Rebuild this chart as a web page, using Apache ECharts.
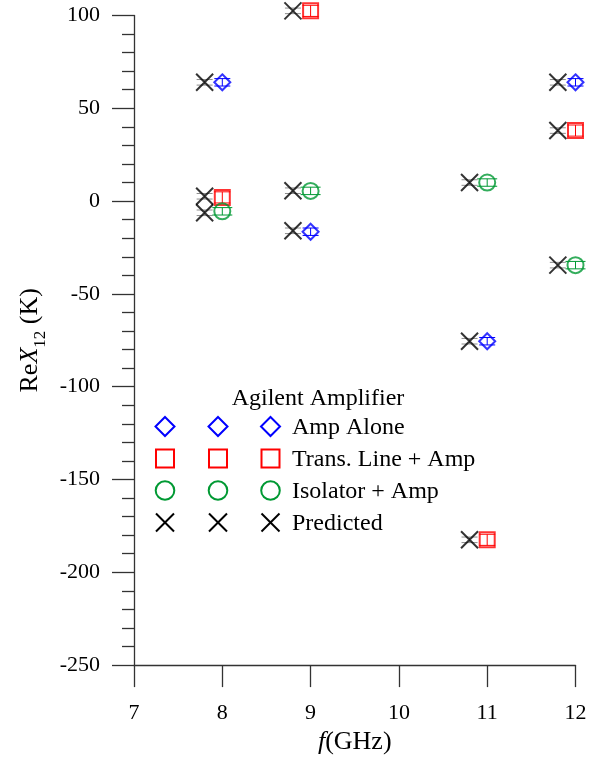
<!DOCTYPE html>
<html>
<head>
<meta charset="utf-8">
<script src="https://cdn.jsdelivr.net/npm/echarts@6/dist/echarts.min.js"></script>
<style>
  html, body { margin: 0; padding: 0; background: #fff; }
  #chart { width: 600px; height: 760px; }
</style>
</head>
<body>
<div id="chart"></div>
<script>
// Measurement frequencies (GHz) and the offset positions used for predictions
const freqs = [8, 9, 11, 12];
const predFreqs = [7.8, 8.8, 10.8, 11.8];

// Measured Re X12 (K)
const ampAlone = [64, -16.5, -75.5, 64];
const transLine = [2, 102.5, -182.5, 38];
const isolator = [-5.5, 5.5, 10, -34.5];

// Measurement uncertainties (K)
const ampAloneErr = [2, 2, 2, 2];
const transLineErr = [3, 3, 3, 3];
const isolatorErr = [2, 2, 2, 2];

// Predicted Re X12 (K) for each configuration
const predAmpAlone = [64, -16, -75.5, 64];
const predTransLine = [2.6, 102.5, -182.5, 38];
const predIsolator = [-6.3, 5.6, 10, -34.5];
const predErr = [1.5, 1.5, 1.5, 1.5];

// Axis ticks
const xTicks = [7, 8, 9, 10, 11, 12];
const yMin = -250, yMax = 100, yStep = 50;

// Legend entries
const legendNames = ['Amp Alone', 'Trans. Line + Amp', 'Isolator + Amp', 'Predicted'];
const legendTitle = 'Agilent Amplifier';

const FONT = 'Liberation Serif';
const BLUE = '#0000ff', RED = '#ff0000', GREEN = '#009933', BLACK = '#000000', GREY = '#8c8c8c';

function pairs(xs, ys) { return xs.map((x, i) => [x, ys[i]]); }
function triples(xs, ys, es) { return xs.map((x, i) => [x, ys[i], es[i]]); }

function errorBars(name, data, color, capW) {
  return {
    type: 'custom',
    name: name,
    data: data,
    clip: false,
    silent: true,
    z: 1,
    renderItem: function (params, api) {
      const x = api.value(0), y = api.value(1), e = api.value(2);
      const top = api.coord([x, y + e]);
      const bot = api.coord([x, y - e]);
      const st = { stroke: color, lineWidth: 1 };
      return {
        type: 'group',
        children: [
          { type: 'line', shape: { x1: top[0], y1: top[1], x2: bot[0], y2: bot[1] }, style: st },
          { type: 'line', shape: { x1: top[0] - capW / 2, y1: top[1], x2: top[0] + capW / 2, y2: top[1] }, style: st },
          { type: 'line', shape: { x1: bot[0] - capW / 2, y1: bot[1], x2: bot[0] + capW / 2, y2: bot[1] }, style: st }
        ]
      };
    }
  };
}

const crossPath = 'path://M0,0L10,10M10,0L0,10';

function scatter(name, data, symbol, color, size, z) {
  return {
    type: 'scatter',
    name: name,
    data: data,
    symbol: symbol,
    symbolSize: size,
    clip: false,
    z: z,
    itemStyle: { color: 'none', borderColor: color, borderWidth: 2 },
    emphasis: { disabled: true }
  };
}

const predAll = pairs(predFreqs, predAmpAlone)
  .concat(pairs(predFreqs, predTransLine))
  .concat(pairs(predFreqs, predIsolator));
const predErrAll = triples(predFreqs, predAmpAlone, predErr)
  .concat(triples(predFreqs, predTransLine, predErr))
  .concat(triples(predFreqs, predIsolator, predErr));

const series = [
  errorBars('errPred', predErrAll, GREY, 16),
  errorBars('errAmp', triples(freqs, ampAlone, ampAloneErr), BLUE, 16),
  errorBars('errTrans', triples(freqs, transLine, transLineErr), RED, 16),
  errorBars('errIso', triples(freqs, isolator, isolatorErr), GREEN, 20),
  scatter(legendNames[0], pairs(freqs, ampAlone), 'diamond', BLUE, 16, 3),
  scatter(legendNames[1], pairs(freqs, transLine), 'rect', RED, 15, 3),
  scatter(legendNames[2], pairs(freqs, isolator), 'circle', GREEN, 16, 3),
  {
    type: 'scatter',
    name: legendNames[3],
    data: predAll,
    symbol: crossPath,
    symbolSize: 17,
    clip: false,
    z: 4,
    itemStyle: { color: 'none', borderColor: BLACK, borderWidth: 2 },
    emphasis: { disabled: true }
  }
];

// Legend key: three icons per row, drawn as plain shapes beside the text entries
const legendRows = [426.5, 458.5, 490.5, 522.5];
const iconCols = [165, 218, 270.5];
const graphics = [];
iconCols.forEach(cx => {
  const s = 9.5;
  graphics.push({
    type: 'polygon', shape: { points: [[cx, legendRows[0] - s], [cx + s, legendRows[0]], [cx, legendRows[0] + s], [cx - s, legendRows[0]]] },
    style: { fill: 'none', stroke: BLUE, lineWidth: 2 }
  });
  graphics.push({
    type: 'rect', shape: { x: cx - 9, y: legendRows[1] - 9, width: 18, height: 18 },
    style: { fill: 'none', stroke: RED, lineWidth: 2 }
  });
  graphics.push({
    type: 'circle', shape: { cx: cx, cy: legendRows[2], r: 9.3 },
    style: { fill: 'none', stroke: GREEN, lineWidth: 2 }
  });
  graphics.push({
    type: 'group',
    children: [
      { type: 'line', shape: { x1: cx - 9, y1: legendRows[3] - 9, x2: cx + 9, y2: legendRows[3] + 9 }, style: { stroke: BLACK, lineWidth: 2 } },
      { type: 'line', shape: { x1: cx + 9, y1: legendRows[3] - 9, x2: cx - 9, y2: legendRows[3] + 9 }, style: { stroke: BLACK, lineWidth: 2 } }
    ]
  });
});
graphics.push({
  type: 'text', x: 318, y: 399,
  style: { text: legendTitle, font: '24px "Liberation Serif"', fill: '#000', align: 'center', verticalAlign: 'middle' }
});
legendNames.forEach((name, i) => {
  graphics.push({
    type: 'text', x: 292, y: legendRows[i] + 1,
    style: { text: name, font: '24px "Liberation Serif"', fill: '#000', align: 'left', verticalAlign: 'middle' }
  });
});

const option = {
  animation: false,
  backgroundColor: '#fff',
  textStyle: { fontFamily: FONT },
  grid: { left: 134, right: 24.5, top: 15.5, bottom: 93.3, containLabel: false },
  xAxis: {
    type: 'value',
    min: xTicks[0],
    max: xTicks[xTicks.length - 1],
    interval: 1,
    name: '{i|f}(GHz)',
    nameLocation: 'middle',
    nameGap: 63,
    nameTextStyle: {
      fontFamily: FONT, fontSize: 26, color: '#000',
      rich: { i: { fontFamily: FONT, fontSize: 26, fontStyle: 'italic', color: '#000' } }
    },
    axisLine: { show: true, onZero: false, lineStyle: { color: '#333', width: 1.3 } },
    axisTick: { show: true, inside: false, length: 22, lineStyle: { color: '#333', width: 1.3 } },
    minorTick: { show: false },
    splitLine: { show: false },
    axisLabel: { fontFamily: FONT, fontSize: 22, color: '#000', margin: 37 }
  },
  yAxis: {
    type: 'value',
    min: yMin,
    max: yMax,
    interval: yStep,
    name: 'Re{i|X}{sub|12} (K)',
    nameLocation: 'middle',
    nameGap: 82,
    nameRotate: 90,
    nameTextStyle: {
      fontFamily: FONT, fontSize: 26, color: '#000',
      rich: {
        i: { fontFamily: FONT, fontSize: 26, fontStyle: 'italic', color: '#000' },
        sub: { fontFamily: FONT, fontSize: 17, color: '#000', verticalAlign: 'bottom', lineHeight: 38 }
      }
    },
    axisLine: { show: true, onZero: false, lineStyle: { color: '#333', width: 1.3 } },
    axisTick: { show: true, inside: false, length: 22, lineStyle: { color: '#333', width: 1.3 } },
    minorTick: { show: true, splitNumber: 5, length: 12, lineStyle: { color: '#333', width: 1.3 } },
    splitLine: { show: false },
    axisLabel: { fontFamily: FONT, fontSize: 22, color: '#000', margin: 34 }
  },
  graphic: graphics,
  series: series
};

const chart = echarts.init(document.getElementById('chart'), null, { renderer: 'canvas' });
chart.setOption(option);
</script>
</body>
</html>
